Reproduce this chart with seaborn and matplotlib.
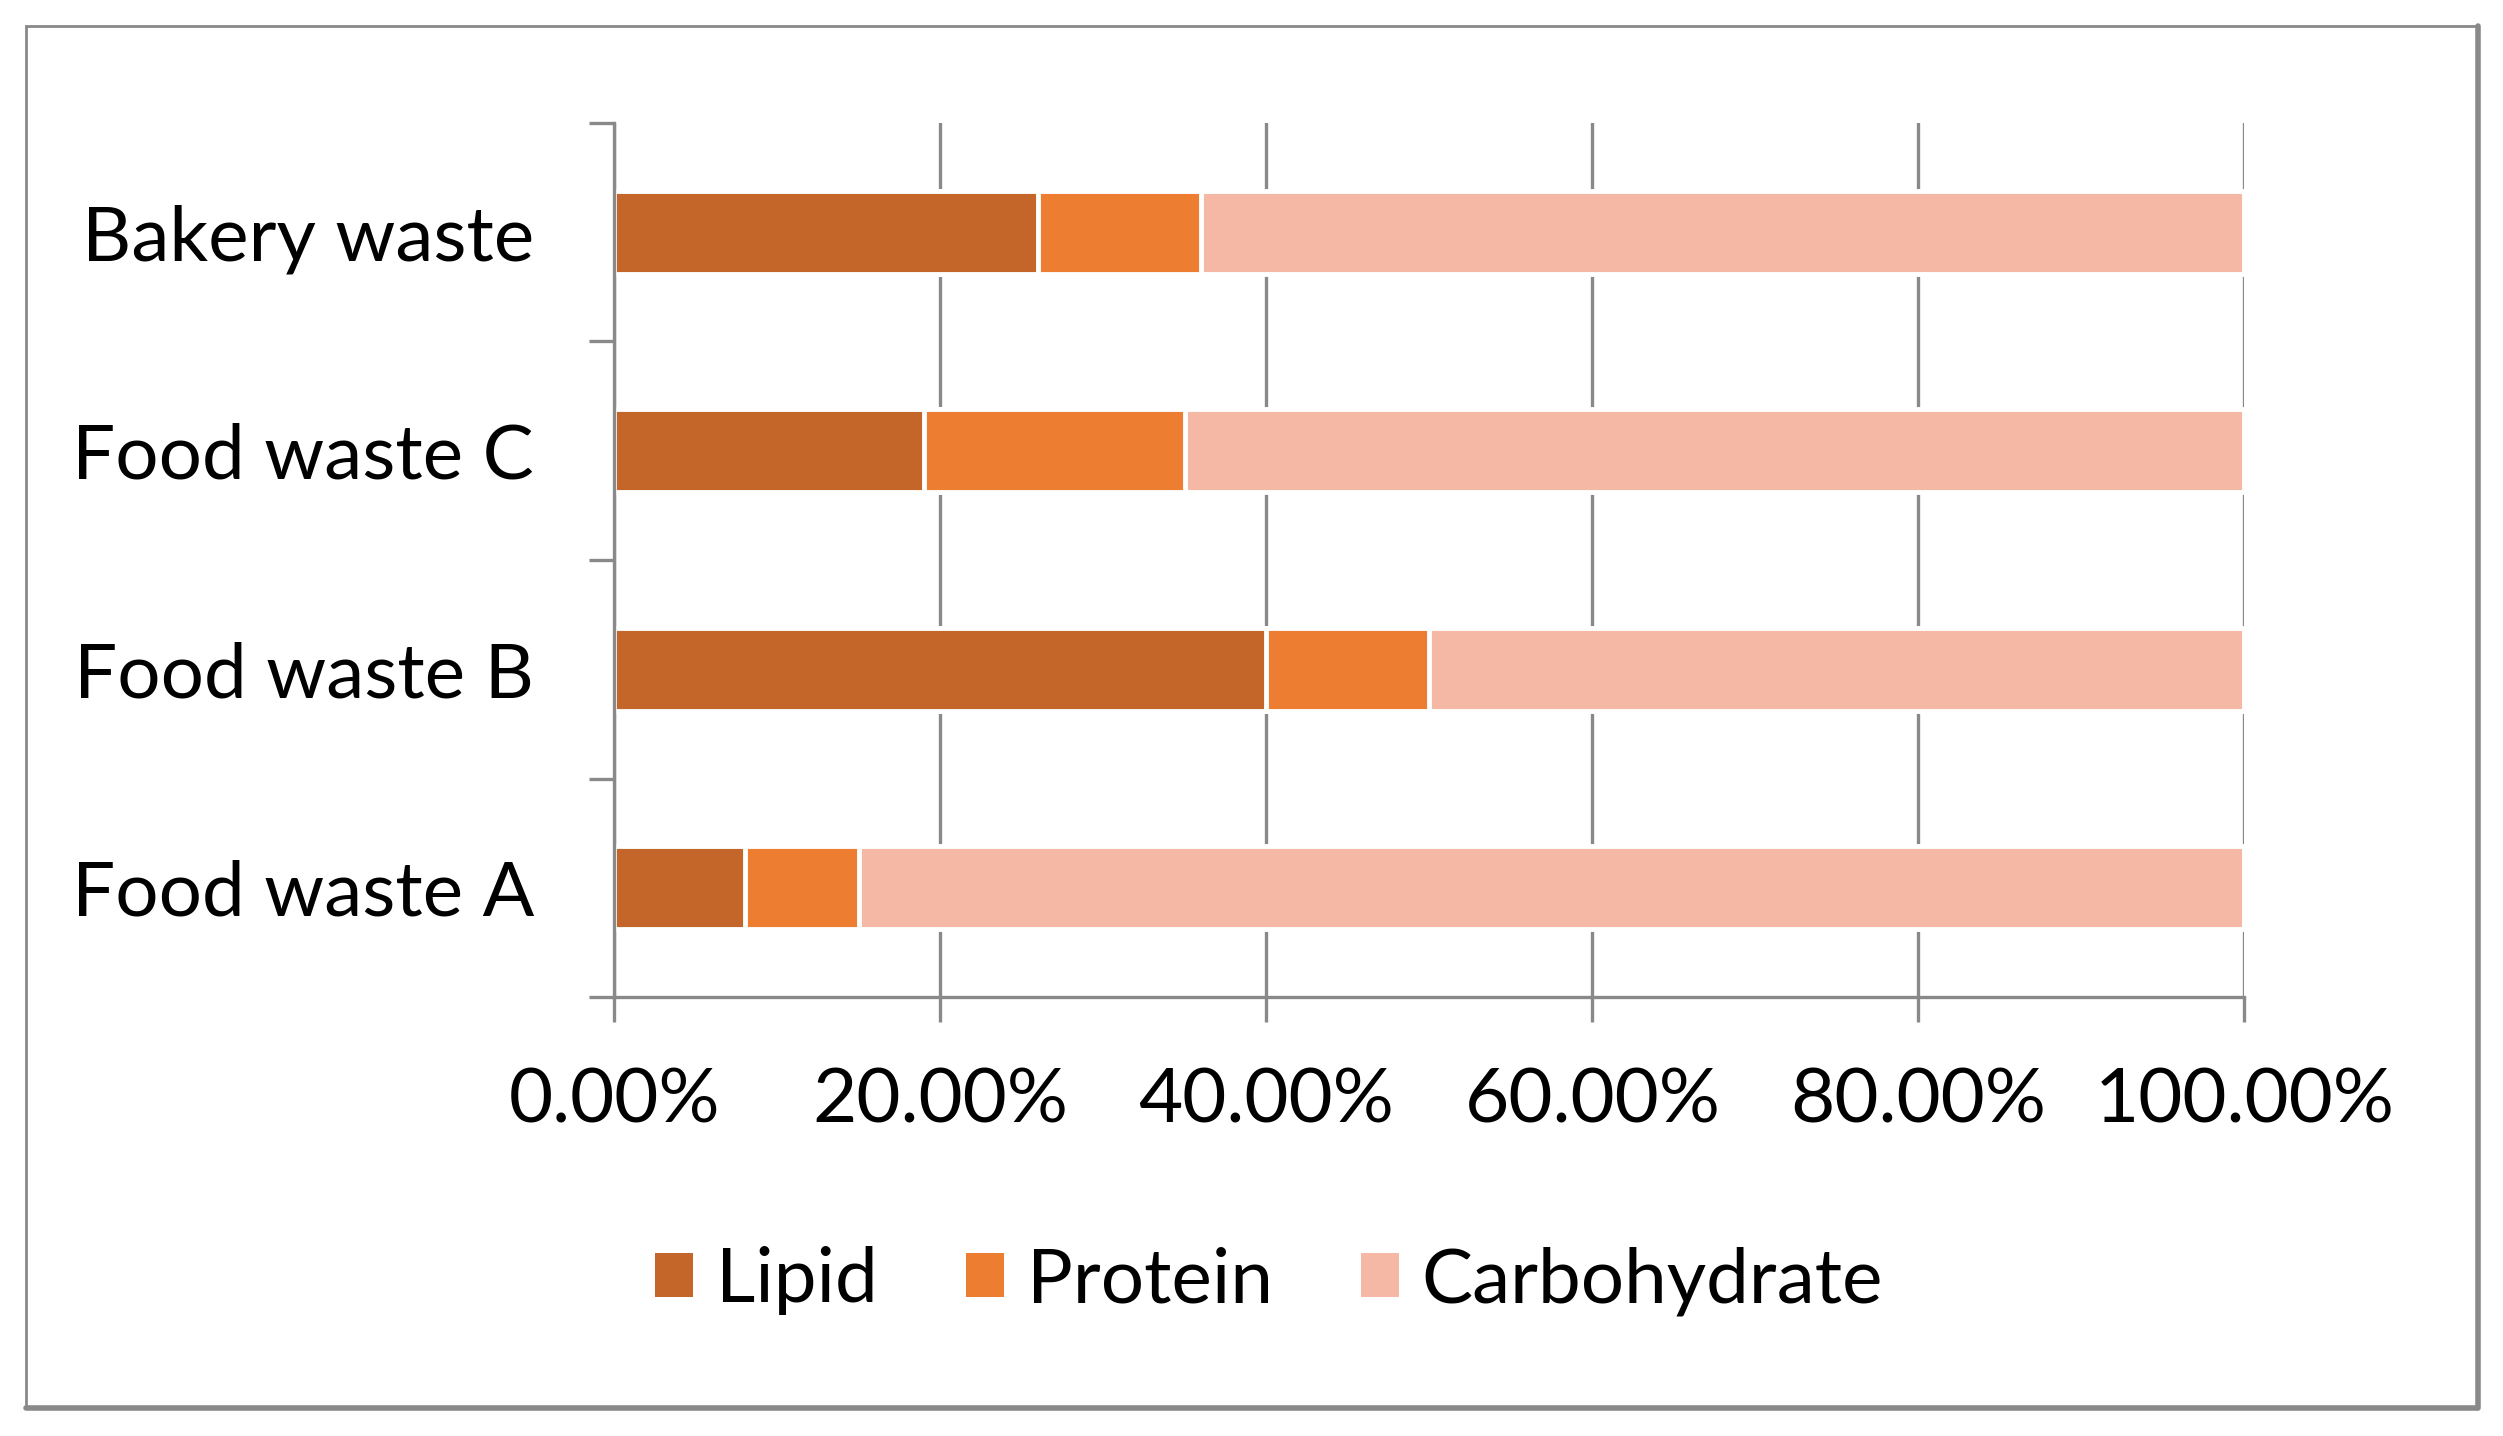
import matplotlib
matplotlib.use("Agg")
import matplotlib.pyplot as plt
from matplotlib.patches import Rectangle, Patch
from matplotlib.lines import Line2D
import seaborn as sns
import pandas as pd

categories = ["Bakery waste", "Food waste C", "Food waste B", "Food waste A"]
lipid = [26, 19, 40, 8]
protein = [10, 16, 10, 7]
carbohydrate = [64, 65, 50, 85]
series_names = ["Lipid", "Protein", "Carbohydrate"]
colors = ["#C4662A", "#ED7D31", "#F4B8A5"]
x_ticks = [0, 20, 40, 60, 80, 100]
x_tick_labels = ["0.00%", "20.00%", "40.00%", "60.00%", "80.00%", "100.00%"]

sns.set_theme(style="white")
plt.rcParams["font.family"] = ["Lato", "DejaVu Sans"]
plt.rcParams["text.color"] = "black"

df = pd.DataFrame({"category": categories, "Lipid": lipid,
                   "Protein": protein, "Carbohydrate": carbohydrate})
df["c1"] = df["Lipid"]
df["c2"] = df["Lipid"] + df["Protein"]
df["c3"] = df["c2"] + df["Carbohydrate"]

GRAY = "#898989"
FS = 55

fig = plt.figure(figsize=(25.03, 14.36), dpi=100)
ax = fig.add_axes([0.2455, 0.3056, 0.6512, 0.6088])

for col, c in zip(["c3", "c2", "c1"], colors[::-1]):
    sns.barplot(data=df, x=col, y="category", order=categories, color=c,
                width=0.38, edgecolor="white", linewidth=3.5, ax=ax,
                orient="h", saturation=1)

ax.set_xlim(0, 100)
ax.set_ylim(3.5, -0.5)
ax.set_xlabel("")
ax.set_ylabel("")
ax.set_xticks(x_ticks)
ax.set_xticklabels(x_tick_labels)
ax.set_axisbelow(True)
ax.xaxis.grid(True, color=GRAY, linewidth=2.4)
ax.yaxis.grid(False)

for s in ["top", "right"]:
    ax.spines[s].set_visible(False)
for s in ["left", "bottom"]:
    ax.spines[s].set_color(GRAY)
    ax.spines[s].set_linewidth(2.4)
    ax.spines[s].set_zorder(3)

ax.set_yticks([-0.5, 0.5, 1.5, 2.5, 3.5], minor=True)
ax.tick_params(axis="y", which="minor", length=18, width=2.4, color=GRAY, left=True)
ax.tick_params(axis="y", which="major", length=0, pad=58, labelsize=FS, labelcolor="black")
ax.tick_params(axis="x", which="major", length=18, width=2.4, color=GRAY, bottom=True,
               pad=32, labelsize=FS, labelcolor="black")

handles = [Patch(facecolor=c, edgecolor="none") for c in colors]
fig.legend(handles, series_names, loc="center", bbox_to_anchor=(0.507, 0.108),
           ncol=3, frameon=False, fontsize=FS, handlelength=0.5, handleheight=0.5,
           handletextpad=0.3, columnspacing=1.15, labelcolor="black")

# outer chart frame with slight shadow on bottom/right
fig.patches.append(Rectangle((0.0102, 0.02), 0.9796, 0.962, transform=fig.transFigure,
                             fill=False, edgecolor=GRAY, linewidth=2.0))
fig.lines.append(Line2D([0.0102, 0.9898], [0.0195, 0.0195], transform=fig.transFigure,
                        color=GRAY, linewidth=4))
fig.lines.append(Line2D([0.9902, 0.9902], [0.0195, 0.982], transform=fig.transFigure,
                        color=GRAY, linewidth=4))

fig.savefig("out.png", dpi=100)
